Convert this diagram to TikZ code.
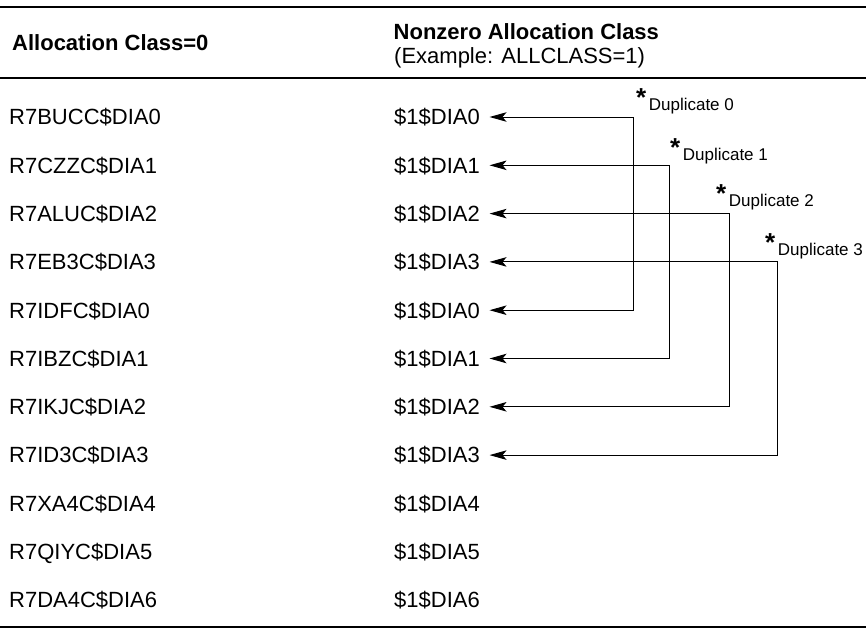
\documentclass[tikz,border=0pt]{standalone}
\usepackage{fontspec}
\setmainfont{Liberation Sans}
\usetikzlibrary{arrows.meta}
\newcommand{\dupstar}{\raisebox{3.5pt}{\fontsize{26}{26}\selectfont\bfseries *}\hspace{2.5pt}}
\begin{document}
\begin{tikzpicture}[x=1pt,y=-1pt,
  cell/.style={anchor=west, inner sep=0pt, text height=15.75pt, text depth=0pt, font=\fontsize{22}{26}\selectfont},
  head/.style={cell, font=\fontsize{22}{26}\selectfont\bfseries},
  rulethick/.style={line width=2.5pt},
  rulethin/.style={line width=1.5pt},
  link/.style={line width=1pt, {Stealth[length=17pt,width=9.5pt,inset=4pt]}-{Stealth[length=17pt,width=9.5pt,inset=4pt]}, shorten <=9.5pt, shorten >=9.5pt},
  dup/.style={anchor=base west, inner sep=0pt, font=\fontsize{17}{20}\selectfont}]
\useasboundingbox (0,0) rectangle (866,629);
% rules
\draw[rulethick] (0,7) -- (866,7);
\draw[rulethick] (0,78) -- (866,78);
\draw[rulethin] (0,627) -- (866,627);
% headers
\node[head] (h0) at (12,43) {Allocation Class=0};
\node[head] (h1) at (393.5,31.5) {Nonzero Allocation Class};
\node[cell] (h2) at (394,55.5) {(Example: ALLCLASS=1)};
% rows
\foreach \i/\l/\r in {0/R7BUCC\$DIA0/\$1\$DIA0, 1/R7CZZC\$DIA1/\$1\$DIA1, 2/R7ALUC\$DIA2/\$1\$DIA2,
  3/R7EB3C\$DIA3/\$1\$DIA3, 4/R7IDFC\$DIA0/\$1\$DIA0, 5/R7IBZC\$DIA1/\$1\$DIA1,
  6/R7IKJC\$DIA2/\$1\$DIA2, 7/R7ID3C\$DIA3/\$1\$DIA3, 8/R7XA4C\$DIA4/\$1\$DIA4,
  9/R7QIYC\$DIA5/\$1\$DIA5, 10/R7DA4C\$DIA6/\$1\$DIA6} {
  \pgfmathsetmacro{\yy}{117+48.3*\i}
  \node[cell] (l\i) at (9,\yy) {\l};
  \node[cell] (r\i) at (394,\yy) {\r};
}
% vertical positions of connectors
\coordinate (x0) at (633,0);
\coordinate (x1) at (669,0);
\coordinate (x2) at (729,0);
\coordinate (x3) at (777,0);
\draw[link] (r0.east) -- (r0.east -| x0) |- (r4.east);
\draw[link] (r1.east) -- (r1.east -| x1) |- (r5.east);
\draw[link] (r2.east) -- (r2.east -| x2) |- (r6.east);
\draw[link] (r3.east) -- (r3.east -| x3) |- (r7.east);
% duplicate labels
\node[dup] (d0) at (636,110) {\dupstar Duplicate 0};
\node[dup] (d1) at (670,160) {\dupstar Duplicate 1};
\node[dup] (d2) at (716,206) {\dupstar Duplicate 2};
\node[dup] (d3) at (765,255) {\dupstar Duplicate 3};
\end{tikzpicture}
\end{document}
